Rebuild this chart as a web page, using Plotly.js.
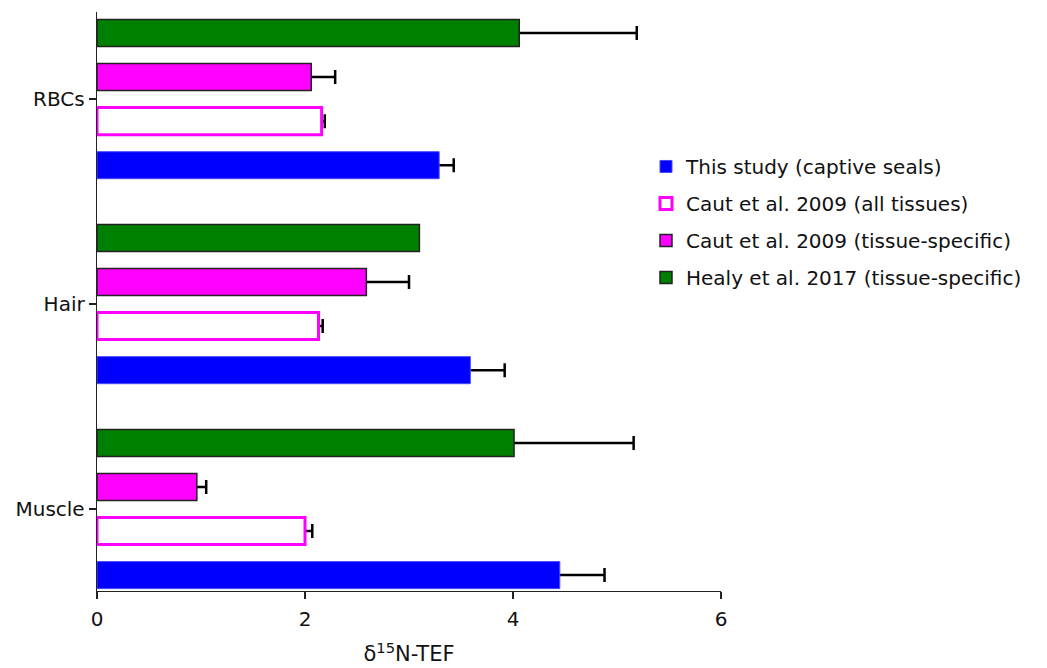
<!DOCTYPE html>
<html>
<head>
<meta charset="utf-8">
<script src="https://cdn.plot.ly/plotly-3.0.1.min.js"></script>
<style>html,body{margin:0;padding:0;background:#fff;}#chart{width:1047px;height:668px;}</style>
</head>
<body>
<div id="chart"></div>
<script>
const categories = ['Muscle', 'Hair', 'RBCs'];
const seriesNames = ['This study (captive seals)', 'Caut et al. 2009 (all tissues)', 'Caut et al. 2009 (tissue-specific)', 'Healy et al. 2017 (tissue-specific)'];
const thisStudy = [4.45, 3.59, 3.29];
const thisStudyErr = [0.43, 0.33, 0.14];
const cautAll = [2.0, 2.13, 2.16];
const cautAllErr = [0.07, 0.04, 0.03];
const cautTissue = [0.96, 2.59, 2.06];
const cautTissueErr = [0.09, 0.41, 0.23];
const healy = [4.01, 3.10, 4.06];
const healyErr = [1.15, null, 1.13];
const xTicks = [0, 2, 4, 6];

const FONT = 'DejaVu Sans, sans-serif';
const series = [
  {x:thisStudy, err:thisStudyErr, marker:{color:'#0000ff', line:{color:'#4a4aff', width:1}}},
  {x:cautAll, err:cautAllErr, marker:{color:'#ffffff', line:{color:'#ff00ff', width:3}}},
  {x:cautTissue, err:cautTissueErr, marker:{color:'#ff00ff', line:{color:'#222', width:1.5}}},
  {x:healy, err:healyErr, marker:{color:'#008000', line:{color:'#222', width:1.5}}}
];

const traces = [];
series.forEach((s, i) => {
  // error bars only on the plus side: drawn first, the bar on top hides the inner end
  traces.push({type:'bar', orientation:'h', y:categories, x:s.x, offsetgroup:'s'+i, showlegend:false,
    legendgroup:'g'+i, hoverinfo:'skip', marker:{color:'rgba(0,0,0,0)', line:{width:0}},
    error_x:{type:'data', symmetric:false,
             array:s.err.map(v => v === null ? NaN : v),
             arrayminus:s.err.map(v => v === null ? NaN : 0.06),
             color:'#000', thickness:2.5, width:7}});
  traces.push({type:'bar', orientation:'h', y:categories, x:s.x, offsetgroup:'s'+i, name:seriesNames[i],
    legendgroup:'g'+i, marker:s.marker, hoverinfo:'x+name'});
});

const layout = {
  width:1047, height:668,
  margin:{l:97, r:326, t:12, b:77, autoexpand:false},
  paper_bgcolor:'#fff', plot_bgcolor:'#fff',
  font:{family:FONT, size:20, color:'#111'},
  barmode:'group', bargap:0.14, bargroupgap:0.386,
  showlegend:true,
  legend:{traceorder:'grouped', tracegroupgap:8, xref:'container', yref:'container',
          x:0.617, y:0.78, xanchor:'left', yanchor:'top', font:{family:FONT, size:20, color:'#111'},
          bgcolor:'rgba(0,0,0,0)'},
  xaxis:{range:[0,6], tickvals:xTicks, ticktext:xTicks.map(String), ticks:'outside', ticklen:7, tickwidth:1.3,
         tickcolor:'#222', showline:true, linecolor:'#222', linewidth:1.3, showgrid:false, zeroline:false,
         ticklabelstandoff:3,
         tickfont:{size:20}, title:{text:'\u03b4<sup>15</sup>N-TEF', font:{size:21}, standoff:16}},
  yaxis:{type:'category', categoryorder:'array', categoryarray:categories, range:[-0.40, 2.425],
         ticks:'outside', ticklen:7, tickwidth:1.3, tickcolor:'#222', showline:true, linecolor:'#222', linewidth:1.3,
         showgrid:false, zeroline:false, tickfont:{size:20}}
};

Plotly.newPlot('chart', traces, layout, {displayModeBar:false, staticPlot:true});
</script>
</body>
</html>
